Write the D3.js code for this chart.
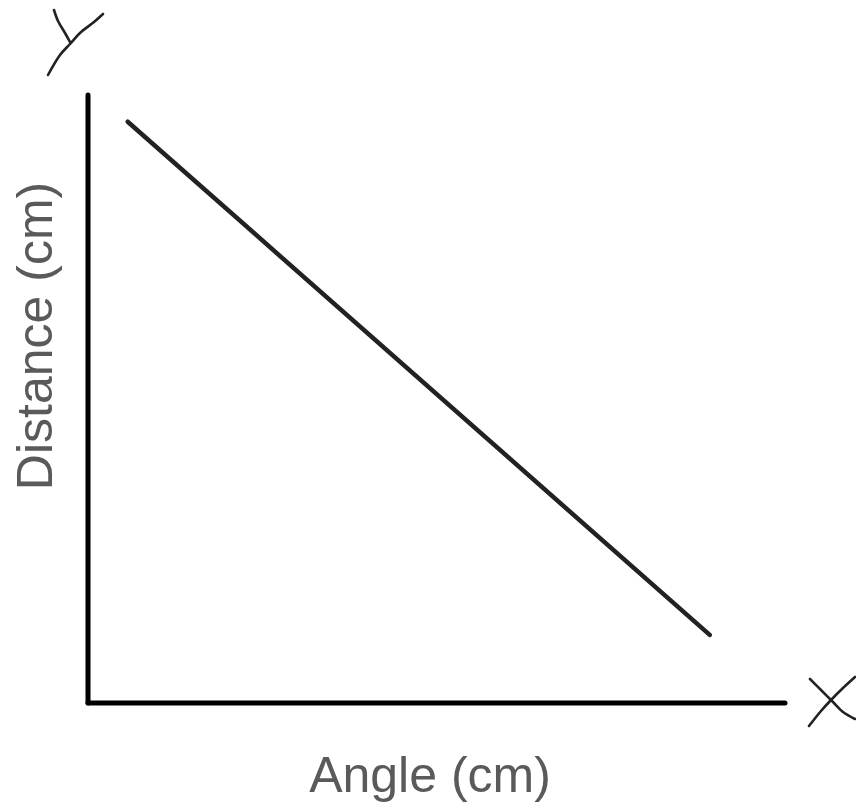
<!DOCTYPE html>
<html>
<head>
<meta charset="utf-8">
<script src="https://cdn.jsdelivr.net/npm/d3@7"></script>
<style>
  html, body { margin: 0; padding: 0; background: #fff; }
  svg { display: block; }
</style>
</head>
<body>
<svg id="chart"></svg>
<script>
// data (axes have no ticks, so values are on a 0-100 scale)
const angle = [5.7, 89.2];
const distance = [95.6, 11.2];
const xLabel = 'Angle (cm)';
const yLabel = 'Distance (cm)';

const width = 856;
const height = 809;

const svg = d3.select('#chart')
  .attr('width', width)
  .attr('height', height)
  ;

const x = d3.scaleLinear().domain([0, 100]).range([88, 785]);
const y = d3.scaleLinear().domain([0, 100]).range([703, 95]);

// axes drawn as plain thick strokes, like the hand sketch
svg.append('line')
  .attr('x1', x(0)).attr('y1', y(0))
  .attr('x2', x(0)).attr('y2', y(100))
  .attr('stroke', '#000')
  .attr('stroke-width', 5)
  .attr('stroke-linecap', 'round')
  ;

svg.append('line')
  .attr('x1', x(0)).attr('y1', y(0))
  .attr('x2', x(100)).attr('y2', y(0))
  .attr('stroke', '#000')
  .attr('stroke-width', 5)
  .attr('stroke-linecap', 'round')
  ;

const points = angle.map((a, i) => [a, distance[i]]);

svg.append('path')
  .datum(points)
  .attr('d', d3.line().x(d => x(d[0])).y(d => y(d[1])))
  .attr('fill', 'none')
  .attr('stroke', '#222')
  .attr('stroke-width', 4.5)
  .attr('stroke-linecap', 'round')
  ;

// hand-written axis letters, placed relative to the axis ends
const yTop = [x(0), y(100)];
const xEnd = [x(100), y(0)];

const letterY = [
  [[-34, -85], [-30, -74], [-23, -62], [-18, -53]],
  [[15, -81], [6, -73], [-8, -62], [-18, -51], [-28, -40], [-40, -20]]
];
const letterX = [
  [[25, -24], [36, -13], [48, -1], [58, 9], [70, 16]],
  [[70, -26], [58, -15], [46, -3], [36, 8], [24, 23]]
];

const stroke = d3.line().curve(d3.curveCatmullRom);

letterY.forEach(s => {
  svg.append('path')
    .attr('d', stroke(s.map(p => [yTop[0] + p[0], yTop[1] + p[1]])))
    .attr('fill', 'none')
    .attr('stroke', '#222')
    .attr('stroke-width', 2.6)
    .attr('stroke-linecap', 'round')
    ;
});

letterX.forEach(s => {
  svg.append('path')
    .attr('d', stroke(s.map(p => [xEnd[0] + p[0], xEnd[1] + p[1]])))
    .attr('fill', 'none')
    .attr('stroke', '#222')
    .attr('stroke-width', 2.6)
    .attr('stroke-linecap', 'round')
    ;
});

svg.append('text')
  .attr('x', 430)
  .attr('y', 792)
  .attr('text-anchor', 'middle')
  .attr('fill', '#5a5a5a')
  .style('font-family', 'Liberation Sans, Arial, sans-serif')
  .style('font-size', '50px')
  .text(xLabel)
  ;

svg.append('text')
  .attr('transform', 'translate(52,336) rotate(-90)')
  .attr('text-anchor', 'middle')
  .attr('fill', '#5a5a5a')
  .style('font-family', 'Liberation Sans, Arial, sans-serif')
  .style('font-size', '50px')
  .text(yLabel)
  ;
</script>
</body>
</html>
